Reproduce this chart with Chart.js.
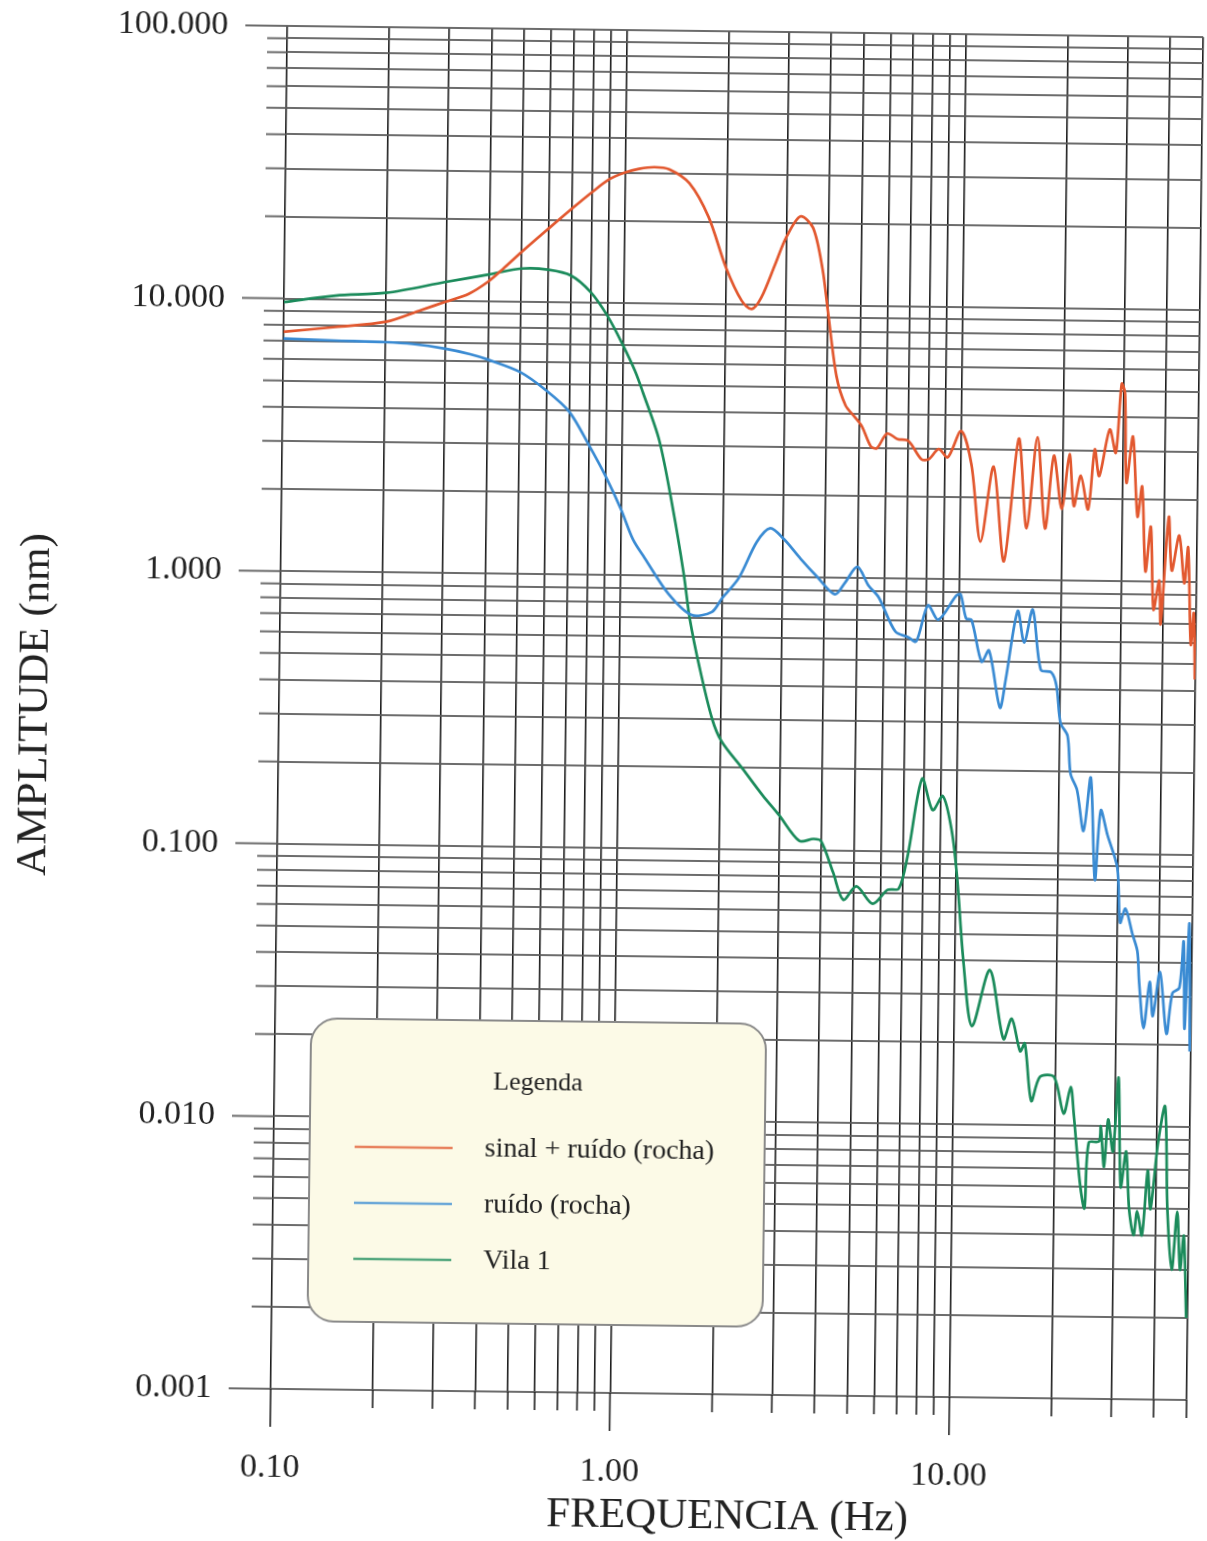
<!DOCTYPE html>
<html>
<head>
<meta charset="utf-8">
<script src="https://cdn.jsdelivr.net/npm/chart.js@4.4.1/dist/chart.umd.min.js"></script>
<style>
  html, body { margin: 0; padding: 0; background: #fff; overflow: hidden; }
  #wrap { width: 1207px; height: 1541px; position: relative; }
  /* the plotted sheet sits slightly tilted on the page */
  canvas { display: block; transform: rotate(0.7deg); transform-origin: 700px 710px; }
</style>
</head>
<body>
<div id="wrap"><canvas id="spectra" width="1207" height="1541"></canvas></div>
<script>
// Spectral amplitude (nm) against frequency (Hz)

// sinal + ruído (rocha)
const sinalFreq = [0.1, 0.142, 0.2, 0.254, 0.3, 0.35, 0.4, 0.44, 0.5, 0.6,
  0.7, 0.8, 0.9, 1.0, 1.1, 1.22, 1.35, 1.55, 1.77, 2.0,
  2.23, 2.39, 2.55, 2.79, 3.0, 3.3, 3.6, 3.85, 4.0, 4.27,
  4.55, 4.85, 5.1, 5.42, 5.65, 6.05, 6.5, 7.0, 7.65, 8.05,
  8.6, 9.15, 10.0, 10.75, 11.5, 12.5, 13.5, 14.8, 15.7, 16.8,
  17.8, 18.8, 19.9, 20.9, 21.6, 22.6, 23.8, 24.8, 25.6, 27.4,
  28.6, 29.6, 30.3, 30.8, 32.1, 33.3, 34.3, 35.3, 36.5, 37.4,
  38.8, 39.3, 41.2, 42.2, 44.3, 46.0, 47.1, 48.3, 49.2, 49.8];
const sinalAmp = [7.55, 7.9, 8.3, 9.2, 9.9, 10.6, 11.8, 13.1, 15.2, 18.6,
  22.0, 25.3, 28.3, 30.0, 31.0, 31.5, 31.0, 27.6, 20.8, 13.6,
  10.3, 9.6, 10.6, 14.0, 17.6, 21.1, 19.2, 13.6, 9.7, 5.5,
  4.3, 3.9, 3.6, 3.05, 3.0, 3.4, 3.25, 3.2, 2.75, 2.75,
  3.0, 2.8, 3.5, 2.64, 1.38, 2.6, 1.17, 3.3, 1.55, 3.35,
  1.55, 2.87, 1.83, 2.91, 1.88, 2.43, 1.83, 3.04, 2.43, 3.6,
  2.96, 5.3, 4.9, 2.3, 3.4, 1.73, 2.23, 1.09, 1.59, 0.79,
  1.01, 0.70, 1.73, 1.10, 1.48, 0.99, 1.34, 0.59, 0.77, 0.44];

// ruído (rocha)
const ruidoFreq = [0.1, 0.14, 0.2, 0.24, 0.3, 0.355, 0.4, 0.5, 0.6, 0.7,
  0.8, 0.9, 1.0, 1.09, 1.18, 1.39, 1.63, 1.87, 2.0, 2.24,
  2.52, 2.76, 3.03, 3.4, 3.8, 4.3, 4.6, 5.0, 5.4, 5.8,
  6.5, 7.1, 7.5, 8.1, 8.7, 9.8, 10.1, 10.5, 10.9, 11.7,
  12.3, 13.3, 13.8, 14.9, 15.6, 16.5, 17.5, 18.8, 19.5, 20.1,
  21.1, 21.6, 22.6, 23.7, 24.8, 25.7, 26.6, 27.9, 29.9, 30.6,
  31.7, 33.3, 34.5, 35.0, 36.2, 37.6, 38.5, 40.3, 42.3, 43.9,
  46.0, 47.2, 47.8, 49.0, 49.6];
const ruidoAmp = [7.13, 7.05, 6.99, 6.9, 6.65, 6.37, 6.1, 5.5, 4.7, 3.95,
  3.0, 2.3, 1.75, 1.35, 1.16, 0.86, 0.72, 0.74, 0.83, 0.99,
  1.34, 1.51, 1.38, 1.17, 1.01, 0.87, 0.96, 1.10, 0.94, 0.85,
  0.64, 0.61, 0.59, 0.80, 0.71, 0.87, 0.88, 0.72, 0.71, 0.50,
  0.55, 0.34, 0.43, 0.77, 0.59, 0.78, 0.47, 0.46, 0.41, 0.30,
  0.27, 0.196, 0.171, 0.121, 0.19, 0.080, 0.144, 0.117, 0.089, 0.056,
  0.063, 0.051, 0.044, 0.034, 0.023, 0.034, 0.0255, 0.037, 0.022, 0.031,
  0.0325, 0.048, 0.023, 0.056, 0.019];

// Vila 1
const vilaFreq = [0.1, 0.142, 0.2, 0.3, 0.4, 0.5, 0.6, 0.7, 0.8, 0.9,
  1.0, 1.09, 1.15, 1.29, 1.42, 1.54, 1.61, 1.73, 1.89, 2.02,
  2.33, 2.68, 3.0, 3.45, 3.8, 4.0, 4.35, 4.67, 5.1, 5.7,
  6.3, 6.8, 7.2, 7.9, 8.5, 9.1, 9.7, 10.1, 10.6, 11.3,
  12.7, 14.0, 14.8, 15.7, 16.2, 17.0, 18.0, 19.8, 21.2, 22.2,
  22.7, 23.8, 24.6, 25.2, 27.0, 27.3, 28.0, 28.7, 29.7, 30.7,
  31.4, 32.5, 33.3, 34.4, 35.2, 36.4, 37.7, 38.5, 40.3, 42.2,
  43.2, 44.7, 46.2, 47.3, 48.4, 49.5];
const vilaAmp = [9.7, 10.3, 10.6, 11.7, 12.5, 13.2, 13.1, 12.5, 10.9, 8.9,
  7.0, 5.6, 4.7, 3.14, 1.79, 1.02, 0.70, 0.46, 0.30, 0.248,
  0.198, 0.158, 0.134, 0.108, 0.110, 0.108, 0.083, 0.066, 0.074, 0.064,
  0.072, 0.073, 0.096, 0.185, 0.142, 0.160, 0.119, 0.080, 0.040, 0.023,
  0.037, 0.0207, 0.0246, 0.0187, 0.020, 0.0123, 0.0151, 0.0151, 0.0111, 0.0139,
  0.0111, 0.0062, 0.0050, 0.0087, 0.0088, 0.0100, 0.0071, 0.0106, 0.0081, 0.0151,
  0.0060, 0.0081, 0.0050, 0.0040, 0.0049, 0.0040, 0.0069, 0.0050, 0.0087, 0.0119,
  0.0050, 0.0030, 0.0049, 0.0030, 0.0040, 0.0020];

const seriesLabels = ['sinal + ruído (rocha)', 'ruído (rocha)', 'Vila 1'];
const seriesColors = ['#e2582f', '#3a8bd3', '#1b8b5b'];

// Axis ranges and decade labels
const xRange = [0.1, 50];
const yRange = [0.001, 100];
const xMajorTicks = [0.1, 1, 10];
const xTickText = ['0.10', '1.00', '10.00'];
const yMajorTicks = [0.001, 0.01, 0.1, 1, 10, 100];
const yTickText = ['0.001', '0.010', '0.100', '1.000', '10.000', '100.000'];

const SERIF = '"Liberation Serif", "Times New Roman", serif';
const TEXT = '#222222';
const H_GRID = 'rgba(92,92,92,0.9)';
const V_GRID = '#1d1d1d';

// 1..9 x each decade, inside the axis range
function logTicks(majors, min, max) {
  const out = [];
  majors.forEach(base => {
    for (let m = 1; m <= 9; m++) {
      const v = +(m * base).toPrecision(6);
      if (v >= min * 0.999999 && v <= max * 1.000001) out.push({ value: v, major: m === 1 });
    }
  });
  return out;
}

function decadeLabel(majors, texts) {
  return function (value) {
    const i = majors.findIndex(t => Math.abs(t - value) < t * 1e-6);
    return i >= 0 ? texts[i] : '';
  };
}

const toPoints = (fs, as) => fs.map((f, i) => ({ x: f, y: as[i] }));

// Short grid stubs outside the plot frame (longer on the decades)
const gridStubs = {
  id: 'gridStubs',
  beforeDatasetsDraw(chart) {
    const { ctx, chartArea: a, scales: { x, y } } = chart;
    ctx.save();
    ctx.lineWidth = 2;
    ctx.strokeStyle = H_GRID;
    y.ticks.forEach(t => {
      const py = y.getPixelForValue(t.value);
      ctx.beginPath();
      ctx.moveTo(a.left - (t.major ? 42 : 20), py);
      ctx.lineTo(a.left, py);
      ctx.stroke();
    });
    ctx.lineWidth = 1.6;
    ctx.strokeStyle = V_GRID;
    x.ticks.forEach(t => {
      const px = x.getPixelForValue(t.value);
      ctx.beginPath();
      ctx.moveTo(px, a.bottom);
      ctx.lineTo(px, a.bottom + (t.major ? 38 : 18));
      ctx.stroke();
    });
    ctx.restore();
  }
};

// Rounded "Legenda" panel
const legendPanel = {
  id: 'legendPanel',
  afterDraw(chart) {
    const ctx = chart.ctx;
    const bx = 315, by = 1023, bw = 455, bh = 303, br = 26;
    ctx.save();
    ctx.beginPath();
    ctx.roundRect(bx, by, bw, bh, br);
    ctx.fillStyle = '#fcfae7';
    ctx.fill();
    ctx.lineWidth = 2;
    ctx.strokeStyle = '#8a8a8a';
    ctx.stroke();

    ctx.fillStyle = TEXT;
    ctx.textBaseline = 'middle';
    ctx.textAlign = 'center';
    ctx.font = '26px ' + SERIF;
    ctx.fillText('Legenda', bx + bw / 2, by + 62);

    chart.data.datasets.forEach((ds, i) => {
      const ly = by + 128 + i * 56;
      ctx.globalAlpha = 0.75;
      ctx.strokeStyle = ds.borderColor;
      ctx.lineWidth = 2.5;
      ctx.beginPath();
      ctx.moveTo(bx + 45, ly);
      ctx.lineTo(bx + 143, ly);
      ctx.stroke();
      ctx.globalAlpha = 1;
      ctx.fillStyle = TEXT;
      ctx.textAlign = 'left';
      ctx.font = '28px ' + SERIF;
      ctx.fillText(ds.label, bx + 175, ly + 1);
    });
    ctx.restore();
  }
};

const seriesData = [
  toPoints(sinalFreq, sinalAmp),
  toPoints(ruidoFreq, ruidoAmp),
  toPoints(vilaFreq, vilaAmp)
];

new Chart(document.getElementById('spectra'), {
  type: 'line',
  data: {
    datasets: seriesData.map((d, i) => ({
      label: seriesLabels[i],
      data: d,
      borderColor: seriesColors[i],
      backgroundColor: seriesColors[i],
      borderWidth: 2.7,
      pointRadius: 0,
      tension: 0.3,
      fill: false
    }))
  },
  options: {
    responsive: false,
    animation: false,
    devicePixelRatio: 1,
    layout: { padding: { top: 31, right: 12, left: 0, bottom: 0 } },
    plugins: { legend: { display: false }, tooltip: { enabled: false } },
    scales: {
      x: {
        type: 'logarithmic',
        position: 'bottom',
        min: xRange[0],
        max: xRange[1],
        afterBuildTicks: s => { s.ticks = logTicks(xMajorTicks, xRange[0], xRange[1]); },
        afterFit: s => { s.height = 147; s.paddingLeft = 0; s.paddingRight = 0; },
        grid: { color: V_GRID, lineWidth: 1.6, drawTicks: false },
        border: { display: false },
        ticks: {
          autoSkip: false, maxRotation: 0, minRotation: 0, padding: 59,
          color: TEXT, font: { family: SERIF, size: 34 },
          callback: decadeLabel(xMajorTicks, xTickText)
        },
        title: {
          display: true, text: 'FREQUENCIA (Hz)', color: TEXT,
          font: { family: SERIF, size: 43 }, padding: { top: 0, bottom: -2 }
        }
      },
      y: {
        type: 'logarithmic',
        position: 'left',
        min: yRange[0],
        max: yRange[1],
        afterBuildTicks: s => { s.ticks = logTicks(yMajorTicks, yRange[0], yRange[1]); },
        afterFit: s => { s.width = 279; s.paddingTop = 0; s.paddingBottom = 0; },
        grid: { color: H_GRID, lineWidth: 2, drawTicks: false },
        border: { display: false },
        ticks: {
          autoSkip: false, padding: 59,
          color: TEXT, font: { family: SERIF, size: 34 },
          callback: decadeLabel(yMajorTicks, yTickText)
        },
        title: {
          display: true, text: 'AMPLITUDE (nm)', color: TEXT,
          font: { family: SERIF, size: 43 }, padding: { top: 10, bottom: 0 }
        }
      }
    }
  },
  plugins: [gridStubs, legendPanel]
});
</script>
</body>
</html>
